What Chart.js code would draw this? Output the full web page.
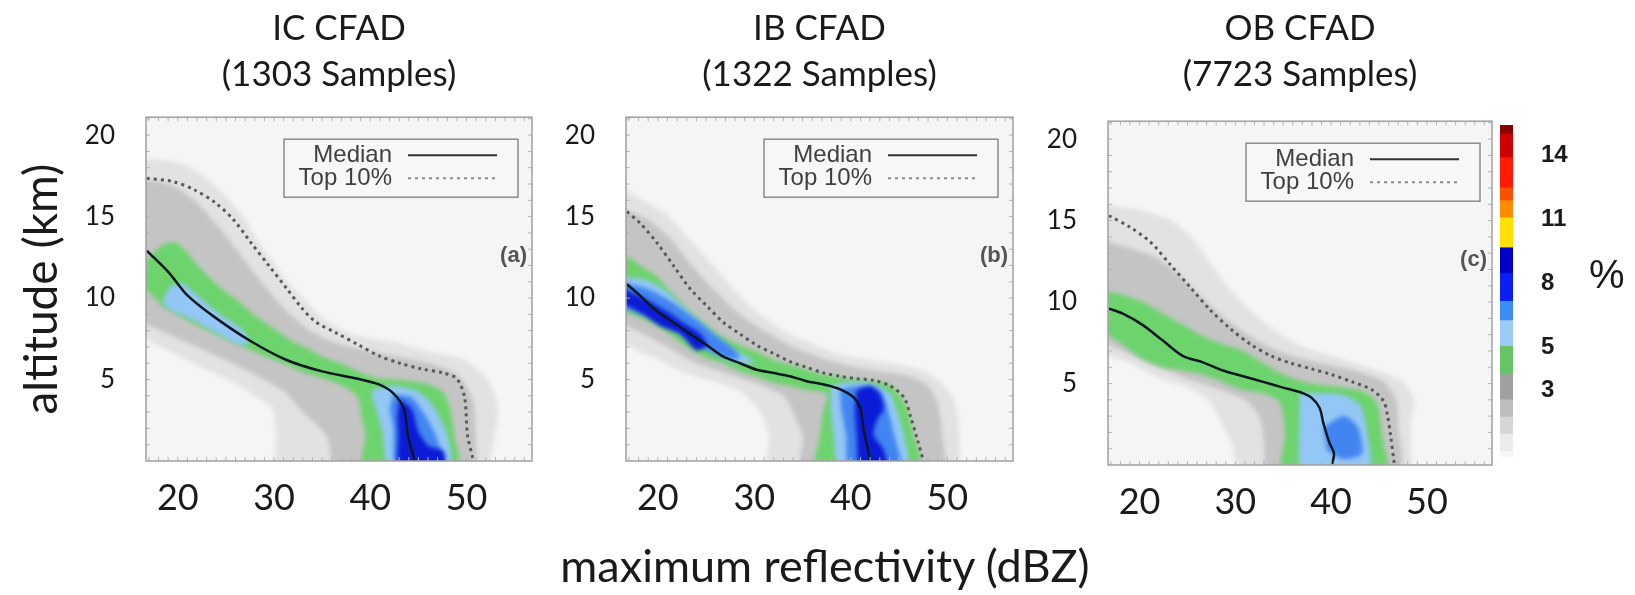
<!DOCTYPE html>
<html>
<head>
<meta charset="utf-8">
<script src="https://cdn.jsdelivr.net/npm/chart.js@4.4.1/dist/chart.umd.min.js"></script>
<style>
  body { margin: 0; background: #fff; width: 1635px; height: 595px; overflow: hidden; position: relative; }
  canvas { position: absolute; top: 0; }
  #pct { position: absolute; left: 1589px; top: 252px; font: 40px "Liberation Sans", Arial, sans-serif; color: #1a1a1a; }
  #xTitle { position: absolute; left: 425px; width: 800px; top: 538px; line-height: 48px; text-align: center;
            white-space: nowrap; font: 45px Lato, sans-serif; color: #1a1a1a; }
</style>
</head>
<body>
<canvas id="panelIC" width="678" height="595" style="left:0px"></canvas>
<canvas id="panelIB" width="679" height="595" style="left:480px"></canvas>
<canvas id="panelOB" width="664" height="595" style="left:968px"></canvas>
<canvas id="colorBar" width="135" height="595" style="left:1500px"></canvas>
<div id="pct">%</div>
<div id="xTitle">maximum reflectivity (dBZ)</div>
<script>
// axes
const dbzTicks = [20, 30, 40, 50];
const kmTicks = [5, 10, 15, 20];
// frequency levels: light gray, gray, green, light blue, blue, dark blue
const shadeColors = ['#e2e2e2', '#c4c4c4', '#6dd36d', '#93c7f5', '#4285f0', '#0b1bd6'];

// colour bar (%)
const cbLow  = [15.0, 13.9, 12.5, 11.9, 11.1, 9.7, 8.5, 7.2, 6.3, 5.1, 3.8, 2.6, 1.8, 1.0, 0.2, -0.1];
const cbHigh = [15.4, 15.0, 13.9, 12.5, 11.9, 11.1, 9.7, 8.5, 7.2, 6.3, 5.1, 3.8, 2.6, 1.8, 1.0, 0.2];
const cbColors = ['#8b0000', '#d00000', '#ff1a00', '#ff5000', '#ff8c00', '#ffe000', '#0000c8', '#0a1ef5',
                  '#3c8cf5', '#9ccbf5', '#66c466', '#a0a0a0', '#bdbdbd', '#d6d6d6', '#ebebeb', '#f7f7f7'];
const cbTicks = [3, 5, 8, 11, 14];

// ---- IC CFAD (dBZ, km)
const icMedian = [[16.8,12.9],[19.1,11.55],[20.95,10.2],[23.9,8.8],[27.6,7.35],[31.3,6.2],[35.0,5.5],[38.7,5.05],
  [40.9,4.7],[42.4,4.15],[43.5,3.2],[43.9,1.6],[44.6,0.05]];
const icTop10 = [[16.8,17.35],[19.5,17.15],[21.7,16.65],[23.9,15.85],[25.8,14.8],[27.6,13.4],[29.45,12.0],[31.3,10.6],
  [32.8,9.45],[34.3,8.55],[36.5,7.85],[38.7,7.15],[40.9,6.45],[43.1,6.0],[45.3,5.65],[47.6,5.4],[49.0,5.05],
  [49.8,3.9],[50.1,1.6],[50.7,0.05]];
const icGray1 = [[16.3,18.6],[20.2,18.3],[22.4,17.6],[24.6,16.5],[26.9,14.9],[28.3,13.5],[29.8,12.3],[31.3,11.1],
  [33.2,9.9],[35.0,8.8],[37.2,8.0],[39.4,7.6],[42.4,7.3],[46.1,6.7],[49.8,6.2],[52.4,4.8],[53.3,3.2],[52.9,1.6],
  [51.8,-0.5],[30.5,-0.5],[30.2,1.6],[29.8,3.2],[28.0,4.0],[25.6,4.9],[22.2,5.8],[19.3,6.7],[16.3,7.6]];
const icGray2 = [[16.3,17.3],[19.5,16.9],[21.7,16.0],[23.9,14.6],[25.8,13.2],[27.6,11.8],[29.5,10.4],[31.3,9.2],
  [33.5,8.1],[35.7,7.4],[38.7,6.9],[42.4,6.45],[46.1,6.0],[49.0,5.3],[50.6,3.9],[50.9,2.0],[50.5,-0.5],
  [36.5,-0.5],[35.5,1.5],[33.0,3.0],[31.0,4.3],[28.0,5.3],[25.0,6.2],[22.0,7.0],[19.0,7.8],[16.3,8.5]];
const icGreen = [[16.3,12.0],[17.5,12.8],[18.6,13.3],[19.8,13.4],[20.8,12.9],[21.9,12.1],[23.2,11.3],[24.7,10.5],
  [26.3,9.8],[27.6,9.1],[29.0,8.5],[30.5,7.9],[32.0,7.3],[33.5,6.9],[35.0,6.4],[36.9,6.0],[38.7,5.5],[40.6,5.1],
  [42.4,5.0],[44.3,4.9],[46.1,4.7],[47.6,4.2],[48.3,3.2],[48.7,1.6],[49.1,-0.5],[39.3,-0.5],[39.5,1.6],[39.1,2.7],
  [38.7,3.9],[37.2,4.6],[35.0,5.1],[33.2,5.4],[31.3,5.9],[29.5,6.3],[27.6,6.8],[25.8,7.3],[23.9,7.8],[22.1,8.3],
  [20.2,8.9],[18.4,9.5],[17.3,10.2],[16.3,10.6]];
const icBlueUpper = [[18.5,9.9],[19.1,10.6],[20.4,10.9],[21.8,10.3],[23.1,9.6],[24.6,8.9],[26.2,8.3],[27.3,7.6],
  [27.0,7.1],[25.8,7.3],[24.2,7.8],[22.6,8.3],[21.0,8.8],[19.4,9.2],[18.5,9.6]];
const icBlueLower = [[40.2,4.35],[42.4,4.6],[44.6,4.35],[46.1,3.7],[47.2,2.7],[48.0,1.6],[48.3,-0.5],[42.0,-0.5],
  [41.3,1.6],[40.6,3.2],[40.2,3.9]];
const icBlueMid = [[42.4,4.1],[44.3,3.9],[45.8,2.7],[46.9,1.4],[47.6,-0.5],[42.8,-0.5],[42.4,2.1],[42.0,3.2]];
const icBlueDark = [[43.0,3.8],[44.3,3.2],[45.0,1.8],[46.1,0.9],[47.6,0.6],[47.6,-0.5],[43.1,-0.5],[42.9,1.6],[42.8,2.7]];

// ---- IB CFAD
const ibMedian = [[16.8,10.85],[18.15,10.15],[19.9,9.2],[21.6,8.5],[23.3,7.8],[25.1,7.1],[26.8,6.4],[28.5,6.0],
  [30.25,5.6],[32.0,5.4],[33.7,5.2],[35.4,4.9],[37.2,4.7],[38.9,4.4],[40.3,3.9],[41.0,3.2],[41.3,2.0],[41.7,0.9],[42.0,0.05]];
const ibTop10 = [[16.8,15.3],[18.15,14.6],[19.9,13.4],[21.6,12.0],[23.3,10.6],[25.1,9.5],[26.8,8.5],[28.5,7.8],
  [30.25,7.1],[32.0,6.6],[33.7,6.1],[35.4,5.75],[37.2,5.4],[38.9,5.2],[40.6,5.05],[42.35,4.95],[44.1,4.6],
  [45.5,3.9],[46.2,2.7],[46.9,1.3],[47.5,0.05]];
const ibGray1 = [[16.3,16.8],[19,15.8],[21,15.1],[23,13.8],[25,12.5],[27.5,10.8],[30,9.3],[33,8.0],[36,7.2],[39,6.5],
  [42,6.2],[45,5.9],[48,5.4],[50.5,4.0],[51.2,2.0],[50.7,-0.5],[31.5,-0.5],[31.5,1.5],[30.6,3],[28.7,4.2],[25.8,4.9],
  [22.8,5.4],[19.8,6.3],[17.8,6.8],[16.3,7.3]];
const ibGray2 = [[16.3,15.5],[19,14.8],[21.5,13.5],[23.5,12.0],[26,10.4],[28.5,9.0],[31,8.0],[34,7.0],[37,6.3],[40,5.8],
  [43,5.5],[46,5.2],[48,4.6],[49,3.5],[49.5,1.5],[49.5,-0.5],[35,-0.5],[35,1.5],[34,3.0],[33,4.0],[30,4.8],[27,5.4],
  [24,6.0],[21,7.0],[18.5,7.8],[16.3,8.4]];
const ibGreen = [[16.3,12.4],[16.9,12.5],[18.15,12.0],[19.9,11.3],[21.6,10.2],[23.3,9.2],[25.1,8.3],[26.8,7.6],[28.5,7.1],
  [30.25,6.7],[32.0,6.2],[33.7,5.9],[35.4,5.6],[37.2,5.3],[38.9,5.15],[40.6,5.0],[42.35,4.9],[44.1,4.65],[45.1,4.0],
  [45.8,3.2],[46.5,1.6],[47.2,-0.5],[36.5,-0.5],[36.8,1.6],[37.2,3.2],[37.5,4.1],[35.4,4.35],[33.7,4.6],[32.0,4.8],
  [30.25,5.2],[28.5,5.5],[26.8,6.0],[25.1,6.3],[23.3,6.9],[21.6,7.6],[19.9,8.3],[18.15,8.8],[16.3,9.2]];
const ibBlueUpper = [[16.3,11.3],[18.85,11.1],[20.9,10.4],[22.6,9.5],[24.4,8.5],[26.1,7.6],[27.8,6.8],[29.6,6.3],
  [29.9,6.0],[27.8,6.1],[25.8,6.7],[23.7,7.4],[21.6,8.1],[19.5,8.8],[17.8,9.2],[16.3,9.5]];
const ibBlueLower = [[37.9,4.6],[39.9,4.85],[42.35,4.7],[44.1,4.1],[44.8,3.0],[45.5,1.6],[45.8,-0.5],[38.9,-0.5],
  [38.2,1.6],[37.9,3.2]];
const ibMidUpper = [[16.3,11.0],[19.2,10.5],[21.6,9.7],[23.7,8.8],[25.8,7.8],[27.8,6.9],[28.5,6.3],[27.1,6.3],[25.1,6.8],
  [23.0,7.6],[20.9,8.3],[18.85,8.9],[16.3,9.4]];
const ibMidLower = [[38.9,4.4],[40.9,4.6],[43.0,4.35],[43.7,3.4],[44.4,1.8],[45.1,-0.5],[39.9,-0.5],[39.5,1.6],[39.0,3.2]];
const ibDarkUpper = [[16.3,10.6],[18.85,9.9],[20.9,9.2],[22.6,8.5],[24.4,7.8],[25.1,7.1],[24.0,6.8],[22.3,7.8],
  [20.2,8.3],[18.5,9.0],[16.3,9.7]];
const ibDarkLower = [[40.6,4.35],[42.0,4.6],[43.0,4.1],[43.4,3.2],[42.7,2.5],[42.35,1.6],[43.4,0.7],[43.7,-0.5],
  [41.0,-0.5],[40.6,1.6],[40.4,3.2]];

// ---- OB CFAD
const obMedian = [[16.8,9.6],[18.2,9.3],[20.3,8.6],[22.4,7.65],[24.5,6.7],[26.6,6.3],[28.7,5.8],[30.8,5.45],[32.9,5.1],
  [35.0,4.75],[37.1,4.4],[38.0,4.1],[38.8,3.5],[39.2,2.55],[39.8,1.4],[40.3,0.7],[40.1,0.05]];
const obTop10 = [[16.8,15.3],[19.0,14.6],[21.1,13.7],[23.2,12.3],[25.3,10.9],[27.4,9.5],[29.5,8.35],[31.6,7.4],
  [33.7,6.7],[35.8,6.25],[37.95,5.9],[40.05,5.55],[42.2,5.1],[44.3,4.6],[45.5,3.9],[45.9,3.0],[46.2,1.85],[46.6,0.05]];
const obGray1 = [[16.3,16.0],[20.3,15.6],[23.6,14.9],[25.8,13.7],[27.85,12.0],[30.0,10.4],[32.5,9.0],[35.0,7.9],
  [37.5,7.15],[40.05,6.7],[42.6,6.2],[45.1,5.75],[47.6,5.05],[48.7,3.9],[48.3,2.55],[47.8,-0.5],[30.6,-0.5],
  [29.7,1.2],[28.2,3.0],[27.2,4.0],[24.8,4.8],[21.8,5.4],[18.8,6.3],[16.3,6.8]];
const obGray2 = [[16.3,13.8],[19,13.3],[21.5,12.8],[23.5,12.0],[26,10.6],[28.5,9.2],[31,8.1],[34,7.1],[37,6.5],[40,6.1],
  [43,5.7],[45.5,5.1],[46.8,4.0],[47,2.5],[47,-0.5],[33.5,-0.5],[33,1.5],[32.5,3.0],[31,4.0],[28,4.7],[25,5.3],
  [22,6.0],[19,6.8],[16.3,7.5]];
const obGreen = [[16.3,10.7],[18.2,10.45],[20.3,10.0],[22.4,9.3],[24.5,8.6],[26.6,7.9],[28.7,7.4],[30.8,7.0],[32.9,6.25],
  [35.0,5.55],[37.1,5.1],[39.2,4.9],[41.3,4.75],[43.4,4.5],[44.7,3.9],[45.1,3.0],[45.3,1.85],[45.7,-0.5],[35.0,-0.5],
  [35.2,1.85],[35.0,3.0],[34.6,3.9],[32.9,4.4],[30.8,4.6],[28.7,5.1],[26.6,5.55],[24.5,5.8],[22.4,6.0],[20.3,6.5],
  [18.2,7.4],[16.3,8.1]];
const obBlueLight = [[36.7,4.4],[39.2,4.4],[41.3,4.3],[43.0,3.7],[43.6,2.55],[43.9,-0.5],[36.6,-0.5]];
const obBlueMid = [[39.2,2.3],[41.3,3.0],[42.8,2.3],[43.2,0.7],[41.3,0.35],[39.6,0.9]];

function toPoints(arr) {
    return arr.map(p => ({ x: p[0], y: p[1] }));
}

// background, frame, inset legend and panel letter
const panelDecor = {
    id: 'panelDecor',
    beforeDraw(chart) {
        const a = chart.chartArea, ctx = chart.ctx;
        ctx.save();
        ctx.fillStyle = '#f5f5f5';
        ctx.fillRect(a.left, a.top, a.right - a.left, a.bottom - a.top);
        ctx.restore();
    },
    beforeDatasetsDraw(chart) {
        chart.ctx.save();
        chart.ctx.filter = 'blur(2px)';
    },
    beforeDatasetDraw(chart, args) {
        if (chart.data.datasets[args.index].label) chart.ctx.filter = 'none';
    },
    afterDatasetsDraw(chart) {
        chart.ctx.filter = 'none';
        chart.ctx.restore();
    },
    afterDraw(chart, args, opts) {
        const a = chart.chartArea, ctx = chart.ctx;
        const sx = chart.scales.x, sy = chart.scales.y;
        ctx.save();
        // minor ticks
        ctx.strokeStyle = '#b4b4b4';
        ctx.lineWidth = 1;
        ctx.beginPath();
        for (let v = Math.ceil(sx.min); v <= sx.max; v++) {
            const px = sx.getPixelForValue(v);
            ctx.moveTo(px, a.top); ctx.lineTo(px, a.top + 4);
            ctx.moveTo(px, a.bottom); ctx.lineTo(px, a.bottom - 4);
        }
        for (let v = 1; v <= sy.max; v++) {
            const py = sy.getPixelForValue(v);
            ctx.moveTo(a.left, py); ctx.lineTo(a.left + 4, py);
            ctx.moveTo(a.right, py); ctx.lineTo(a.right - 4, py);
        }
        ctx.stroke();
        // frame
        ctx.strokeStyle = '#a0a0a0';
        ctx.lineWidth = 1.5;
        ctx.strokeRect(a.left, a.top, a.right - a.left, a.bottom - a.top);

        // legend
        const bx = a.left + 138, by = a.top + 22, bw = 234, bh = 58;
        ctx.fillStyle = '#f7f7f7';
        ctx.fillRect(bx, by, bw, bh);
        ctx.strokeStyle = '#8c8c8c';
        ctx.lineWidth = 1.5;
        ctx.strokeRect(bx, by, bw, bh);
        const items = chart.data.datasets.filter(ds => ds.label);
        ctx.font = '24px "Liberation Sans", Arial, sans-serif';
        ctx.textAlign = 'right';
        ctx.textBaseline = 'middle';
        items.forEach((ds, i) => {
            const y = by + 16 + i * 23;
            ctx.fillStyle = '#404040';
            ctx.fillText(ds.label, bx + 108, y);
            ctx.strokeStyle = ds.legendColor || ds.borderColor;
            ctx.lineWidth = 2;
            ctx.setLineDash(ds.borderDash || []);
            ctx.beginPath();
            ctx.moveTo(bx + 124, y); ctx.lineTo(bx + 213, y);
            ctx.stroke();
            ctx.setLineDash([]);
        });

        // panel letter
        ctx.font = 'bold 22px "Liberation Sans", Arial, sans-serif';
        ctx.fillStyle = '#555555';
        ctx.textAlign = 'right';
        ctx.fillText(opts.letter, a.right - 5, a.top + 139);
        ctx.restore();
    }
};

function create_Panel(id, cfg) {
    const datasets = [];
    cfg.shades.forEach(([poly, level]) => {
        datasets.push({
            data: toPoints(poly),
            backgroundColor: shadeColors[level],
            borderColor: 'rgba(0,0,0,0)',
            borderWidth: 0,
            fill: 'shape',
            tension: 0.25,
            pointRadius: 0,
            order: 10 - level
        });
    });
    datasets.push({
        label: 'Median',
        data: toPoints(cfg.median),
        borderColor: '#0e1822',
        legendColor: '#303030',
        borderWidth: 2.5,
        fill: false,
        tension: 0.3,
        pointRadius: 0,
        order: 0
    });
    datasets.push({
        label: 'Top 10%',
        data: toPoints(cfg.top10),
        borderColor: '#5a5a5a',
        legendColor: '#8a8a8a',
        borderWidth: 3,
        borderDash: [3, 4],
        fill: false,
        tension: 0.3,
        pointRadius: 0,
        order: 1
    });

    const context = document.getElementById(id).getContext('2d');
    return new Chart(context, {
        type: 'line',
        data: { datasets: datasets },
        plugins: [panelDecor],
        options: {
            responsive: false,
            animation: false,
            events: [],
            devicePixelRatio: 1,
            layout: { padding: 0 },
            plugins: {
                legend: { display: false },
                tooltip: { enabled: false },
                title: {
                    display: true,
                    text: cfg.title,
                    color: '#1a1a1a',
                    font: { family: 'Lato', size: 35, weight: 'normal', lineHeight: 1.31 },
                    padding: { top: 6, bottom: cfg.titleGap }
                },
                panelDecor: { letter: cfg.letter }
            },
            scales: {
                x: {
                    type: 'linear',
                    min: 16.7,
                    max: 56.8,
                    grid: { display: false, drawTicks: false },
                    border: { display: false },
                    afterBuildTicks: s => { s.ticks = dbzTicks.map(v => ({ value: v })); },
                    afterFit: s => { s.height = cfg.xAxisHeight; },
                    ticks: { color: '#1a1a1a', padding: 16, autoSkip: false, maxRotation: 0,
                             font: { family: 'Lato', size: 36 } }
                },
                y: {
                    type: 'linear',
                    min: 0,
                    max: 21.1,
                    grid: { display: false, drawTicks: false },
                    border: { display: false },
                    afterBuildTicks: s => { s.ticks = kmTicks.map(v => ({ value: v })); },
                    afterFit: s => { s.width = cfg.side; },
                    ticks: { color: '#1a1a1a', padding: 31, font: { family: 'Lato', size: 26 } },
                    title: {
                        display: !!cfg.yTitle,
                        text: cfg.yTitle || '',
                        color: '#1a1a1a',
                        font: { family: 'Lato', size: 46, lineHeight: 1 },
                        padding: { top: 19, bottom: 0 }
                    }
                },
                // empty right-hand axis keeps the title centred over the plot
                yRight: {
                    type: 'linear',
                    position: 'right',
                    min: 0,
                    max: 21.1,
                    grid: { display: false, drawTicks: false },
                    border: { display: false },
                    ticks: { display: false },
                    afterFit: s => { s.width = cfg.side; }
                }
            }
        }
    });
}

function create_ColorBar() {
    const context = document.getElementById('colorBar').getContext('2d');
    return new Chart(context, {
        type: 'bar',
        data: {
            labels: [''],
            datasets: cbColors.map((c, i) => ({
                data: [[cbLow[i], cbHigh[i]]],
                backgroundColor: c,
                borderWidth: 0,
                grouped: false,
                barPercentage: 1,
                categoryPercentage: 1
            }))
        },
        options: {
            responsive: false,
            animation: false,
            events: [],
            devicePixelRatio: 1,
            layout: { padding: { top: 125, bottom: 138, left: 0, right: 0 } },
            plugins: { legend: { display: false }, tooltip: { enabled: false } },
            scales: {
                x: { display: false },
                y: {
                    position: 'right',
                    min: -0.1,
                    max: 15.4,
                    grid: { display: false, drawTicks: false },
                    border: { display: false },
                    afterBuildTicks: s => { s.ticks = cbTicks.map(v => ({ value: v })); },
                    afterFit: s => { s.width = 122; },
                    ticks: { color: '#1a1a1a', padding: 28,
                             font: { family: 'Liberation Sans', size: 24, weight: 'bold' } }
                }
            }
        }
    });
}

function create_Graph() {
    create_Panel('panelIC', {
        title: ['IC CFAD', '(1303 Samples)'], letter: '(a)', side: 146, titleGap: 19.5, xAxisHeight: 134,
        yTitle: 'altitude (km)',
        median: icMedian, top10: icTop10,
        shades: [[icGray1, 0], [icGray2, 1], [icGreen, 2], [icBlueUpper, 3], [icBlueLower, 3], [icBlueMid, 4], [icBlueDark, 5]]
    });
    create_Panel('panelIB', {
        title: ['IB CFAD', '(1322 Samples)'], letter: '(b)', side: 146, titleGap: 19.5, xAxisHeight: 134,
        median: ibMedian, top10: ibTop10,
        shades: [[ibGray1, 0], [ibGray2, 1], [ibGreen, 2], [ibBlueUpper, 3], [ibBlueLower, 3],
                 [ibMidUpper, 4], [ibMidLower, 4], [ibDarkUpper, 5], [ibDarkLower, 5]]
    });
    create_Panel('panelOB', {
        title: ['OB CFAD', '(7723 Samples)'], letter: '(c)', side: 140, titleGap: 23.5, xAxisHeight: 130,
        median: obMedian, top10: obTop10,
        shades: [[obGray1, 0], [obGray2, 1], [obGreen, 2], [obBlueLight, 3], [obBlueMid, 4]]
    });
    create_ColorBar();
}

window.onload = create_Graph;
</script>
</body>
</html>
